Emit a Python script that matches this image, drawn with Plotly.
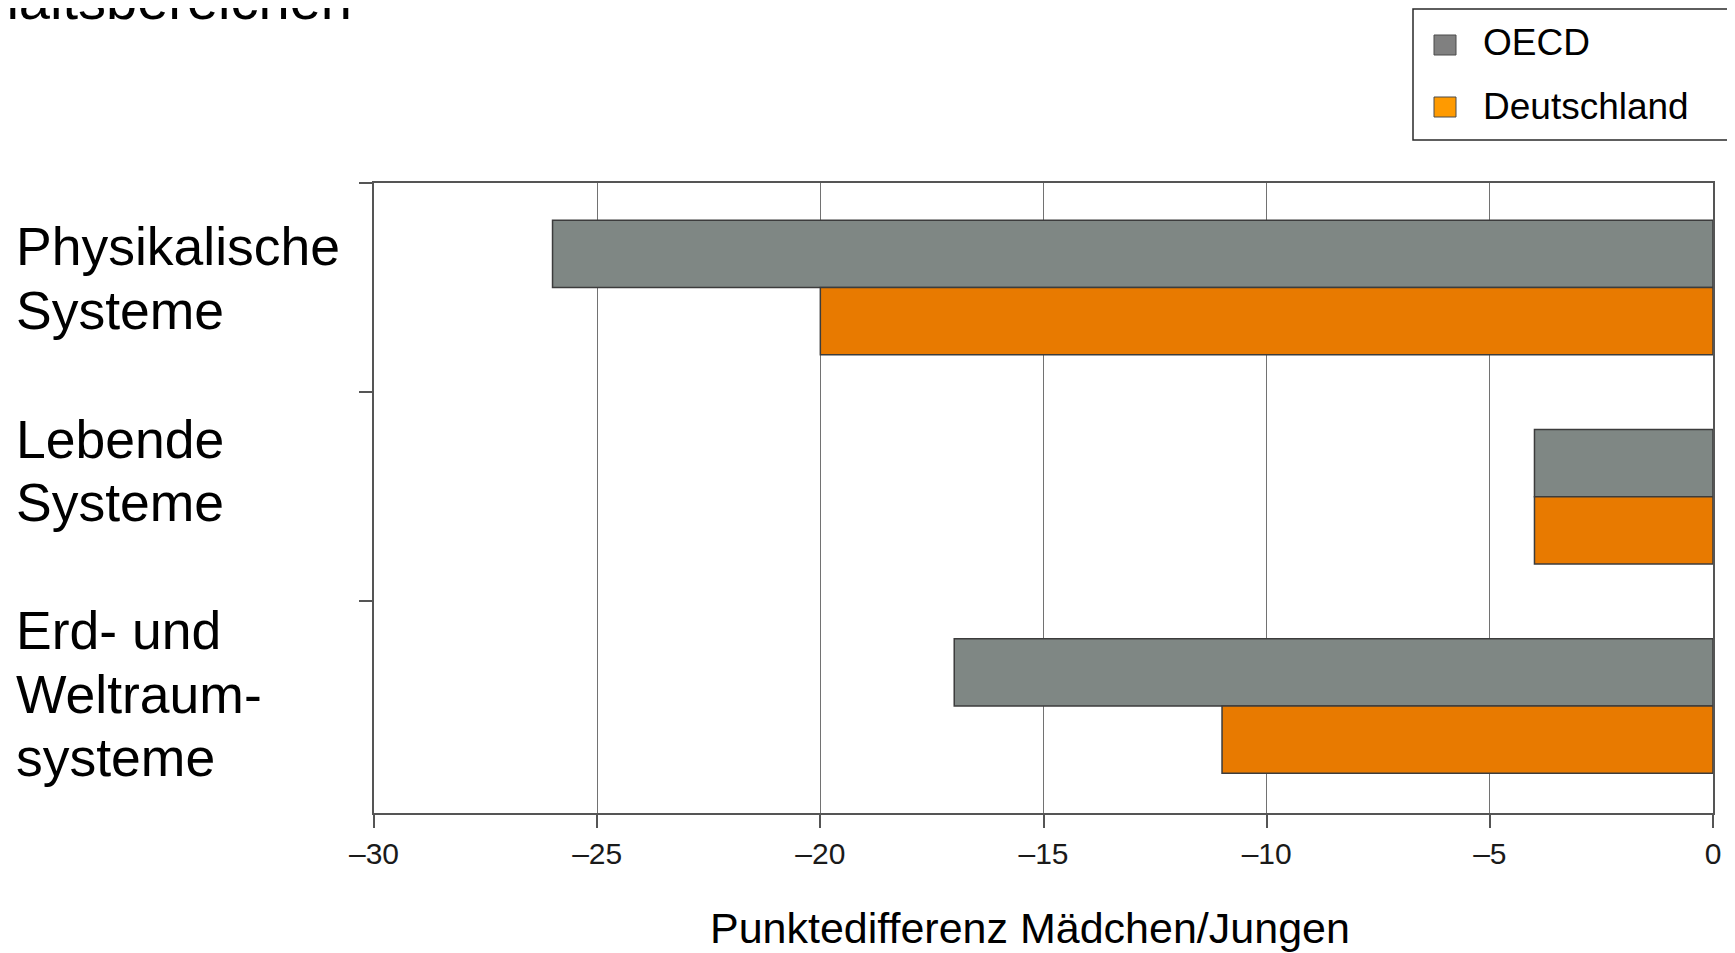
import plotly.graph_objects as go

# ---------------- data ----------------
categories = ["Physikalische<br>Systeme", "Lebende<br>Systeme", "Erd- und<br>Weltraum-<br>systeme"]
oecd = [-26, -4, -17]
deutschland = [-20, -4, -11]
series_names = ["OECD", "Deutschland"]
tick_values = [-30, -25, -20, -15, -10, -5, 0]
tick_labels = ["–30", "–25", "–20", "–15", "–10", "–5", "0"]
x_title = "Punktedifferenz Mädchen/Jungen"
title_text = "Inhaltsbereichen"

# ---------------- layout geometry (page pixels) ----------------
W, H = 1735, 953
OFF = 8  # default body margin of the html page
PL, PR, PT, PB = 374 - OFF, 1713 - OFF, 183 - OFF, 813 - OFF
FONT = "Liberation Sans, Arial, Helvetica, sans-serif"


def X(px):
    return (px - OFF - PL) / (PR - PL)


def Y(py):
    return (PB - (py - OFF)) / (PB - PT)


bar_colors = ["#7f8784", "#e87a00"]
legend_colors = ["#808080", "#ff9a00"]
outline = "#3c3c3c"

fig = go.Figure()
for name, vals, col in zip(series_names, [oecd, deutschland], bar_colors):
    fig.add_trace(go.Bar(
        y=categories, x=vals, orientation="h", name=name,
        marker=dict(color=col, line=dict(color=outline, width=1.5)),
        showlegend=False,
    ))

annotations = []
# category labels (left aligned, one annotation per text line)
label_shift = [9, 26, 12]
LINE_GAP = 63.5
for cat, sh in zip(categories, label_shift):
    lines = cat.split("<br>")
    n = len(lines)
    for i, line in enumerate(lines):
        annotations.append(dict(
            text=line, xref="paper", x=X(14), xanchor="left", align="left",
            yref="y", y=cat, yanchor="middle",
            yshift=sh + (n - 1) / 2 * LINE_GAP - i * LINE_GAP, showarrow=False,
            font=dict(family=FONT, size=53.5, color="#000000"),
        ))

# clipped title at top
annotations.append(dict(
    text=title_text, xref="paper", x=X(354), xanchor="right",
    yref="paper", y=Y(0), yanchor="middle", showarrow=False,
    font=dict(family=FONT, size=56, color="#000000"),
))

# x axis title
annotations.append(dict(
    text=x_title, xref="paper", x=X(1030), xanchor="center",
    yref="paper", y=Y(928), yanchor="middle", showarrow=False,
    font=dict(family=FONT, size=43, color="#000000"),
))

# manual legend
shapes = [
    dict(type="rect", xref="paper", yref="paper", x0=X(1413), x1=X(1800),
         y0=Y(140), y1=Y(9), line=dict(color="#2a2a2a", width=1.5),
         fillcolor="rgba(0,0,0,0)", layer="above"),
]
legend_rows = [(35, 55, 43), (97, 117, 107)]
for name, col, (ya, yb, yc) in zip(series_names, legend_colors, legend_rows):
    shapes.append(dict(type="rect", xref="paper", yref="paper",
                       x0=X(1434), x1=X(1456), y0=Y(yb), y1=Y(ya),
                       fillcolor=col, line=dict(color="#4a4a4a", width=1)))
    annotations.append(dict(
        text=name, xref="paper", x=X(1481), xanchor="left",
        yref="paper", y=Y(yc), yanchor="middle", showarrow=False,
        font=dict(family=FONT, size=37, color="#000000"),
    ))

fig.update_layout(
    width=W, height=H,
    margin=dict(l=PL, r=W - PR, t=PT, b=H - PB, autoexpand=False),
    paper_bgcolor="white", plot_bgcolor="white",
    barmode="group", bargap=0.357, bargroupgap=0,
    showlegend=False,
    annotations=annotations, shapes=shapes,
    font=dict(family=FONT, color="#000000"),
)
fig.update_xaxes(
    range=[-30, 0], tickmode="array", tickvals=tick_values, ticktext=tick_labels,
    ticks="outside", ticklen=13, tickwidth=1.5, tickcolor="#555555",
    showgrid=True, gridcolor="#727272", gridwidth=1.3,
    showline=True, linecolor="#555555", linewidth=2, mirror=True,
    zeroline=False, automargin=False,
    tickfont=dict(family=FONT, size=30, color="#1a1a1a"),
)
fig.update_yaxes(
    type="category", autorange="reversed", tickson="boundaries",
    ticks="outside", ticklen=13, tickwidth=1.5, tickcolor="#555555",
    showticklabels=False, showgrid=False,
    showline=True, linecolor="#555555", linewidth=2, mirror=True,
    zeroline=False, automargin=False,
)

fig.write_html("out.html")
